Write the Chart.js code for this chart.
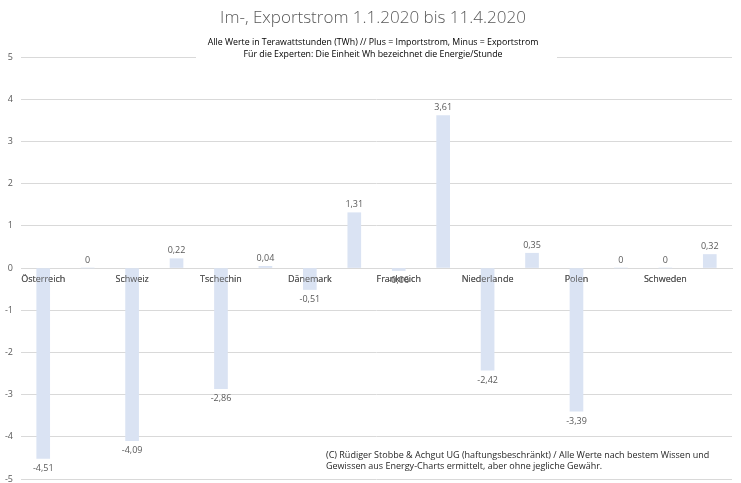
<!DOCTYPE html>
<html>
<head>
<meta charset="utf-8">
<script src="https://cdn.jsdelivr.net/npm/chart.js@4.4.1/dist/chart.umd.min.js"></script>
<style>
    body { margin: 0; background: #fff; }
    #wrap { width: 741px; height: 483px; position: relative; }
</style>
</head>
<body>
<div id="wrap"><canvas id="chart"></canvas></div>
<script>
// DATA
const countries = ["Österreich", "Schweiz", "Tschechin", "Dänemark", "Frankreich", "Niederlande", "Polen", "Schweden"];
// two bars per country, label sits under the first one
const values = [-4.51, 0, -4.09, 0.22, -2.86, 0.04, -0.51, 1.31, -0.06, 3.61, -2.42, 0.35, -3.39, 0, 0, 0.32];
const yTicks = [-5, -4, -3, -2, -1, 0, 1, 2, 3, 4, 5];

const titleText = "Im-, Exportstrom 1.1.2020 bis 11.4.2020";
const subtitleLines = [
    "Alle Werte in Terawattstunden (TWh) // Plus = Importstrom, Minus = Exportstrom",
    "Für die Experten: Die Einheit Wh bezeichnet die Energie/Stunde"
];
const footLines = [
    "(C) Rüdiger Stobbe & Achgut UG (haftungsbeschränkt) / Alle Werte nach bestem Wissen und",
    "Gewissen aus Energy-Charts ermittelt, aber ohne jegliche Gewähr."
];

const labels = [];
countries.forEach(c => { labels.push(c); labels.push(""); });

const FONT = "'Open Sans', Lato, sans-serif";
const fmt = v => v.toLocaleString("de-DE");

// VALUE LABELS (+ category labels again so they sit on top of the bars)
const valueLabels = {
    id: "valueLabels",
    afterDatasetsDraw(chart) {
        const ctx = chart.ctx;
        chart.scales.x.drawLabels(chart.chartArea);
        const meta = chart.getDatasetMeta(0);
        ctx.save();
        ctx.font = "9px " + FONT;
        ctx.fillStyle = "#595959";
        ctx.textAlign = "center";
        ctx.textBaseline = "middle";
        meta.data.forEach((bar, i) => {
            const v = values[i];
            const y = v < 0 ? bar.y + 10 : bar.y - 8;
            ctx.fillText(fmt(v), bar.x, y);
        });
        ctx.restore();
    }
};

// TITLE, SUBTITLE, FOOTNOTE
const texts = {
    id: "texts",
    afterDraw(chart) {
        const ctx = chart.ctx;
        const cx = 373;
        ctx.save();
        ctx.textAlign = "center";
        ctx.textBaseline = "middle";
        ctx.font = "300 17px " + FONT;
        ctx.fillStyle = "#595959";
        ctx.fillText(titleText, cx, 18);

        ctx.fillStyle = "#fff";
        ctx.fillRect(196, 35, 361, 26);
        ctx.font = "8.8px " + FONT;
        ctx.fillStyle = "#000";
        ctx.fillText(subtitleLines[0], cx, 42);
        ctx.fillText(subtitleLines[1], cx, 54);

        ctx.textAlign = "left";
        ctx.font = "9px " + FONT;
        ctx.fillStyle = "#262626";
        ctx.fillText(footLines[0], 326, 455);
        ctx.fillText(footLines[1], 326, 466);
        ctx.restore();
    }
};

new Chart(document.getElementById("chart"), {
    type: "bar",
    data: {
        labels,
        datasets: [{ data: values, backgroundColor: "#dae3f3", barThickness: 13 }]
    },
    options: {
        responsive: true,
        maintainAspectRatio: false,
        animation: false,
        layout: { padding: { top: 57, right: 9, bottom: 4, left: 0 } },
        plugins: { legend: { display: false }, tooltip: { enabled: false } },
        scales: {
            x: {
                position: { y: 0 },
                afterFit: s => { s.height = 0; s.paddingTop = 0; s.paddingBottom = 0; },
                grid: { display: false, drawTicks: false },
                border: { color: "#d9d9d9" },
                ticks: {
                    autoSkip: false, maxRotation: 0, padding: 6,
                    color: "#595959", font: { family: FONT, size: 9 }
                }
            },
            y: {
                min: yTicks[0],
                max: yTicks[yTicks.length - 1],
                afterBuildTicks: s => { s.ticks = yTicks.map(v => ({ value: v })); },
                afterFit: s => { s.width = 21; s.paddingTop = 0; s.paddingBottom = 0; },
                grid: { color: "#d9d9d9", drawTicks: false },
                border: { display: false },
                ticks: {
                    padding: 8, color: "#595959", font: { family: FONT, size: 9 },
                    callback: v => fmt(v)
                }
            }
        }
    },
    plugins: [valueLabels, texts]
});
</script>
</body>
</html>
